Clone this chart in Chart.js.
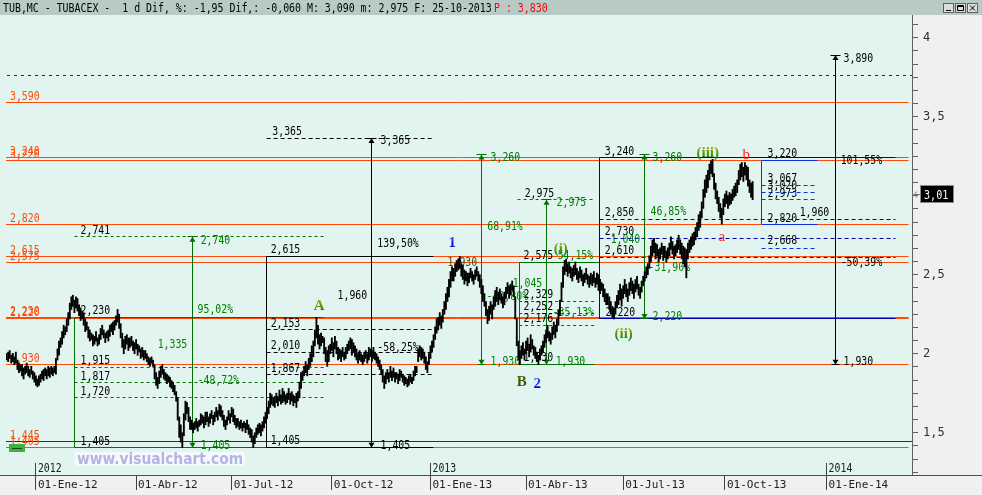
<!DOCTYPE html>
<html><head><meta charset="utf-8">
<script src="https://cdn.jsdelivr.net/npm/chart.js@4.4.1/dist/chart.umd.min.js"></script>
<style>html,body{margin:0;padding:0;background:#f0f0f0;}canvas{display:block}</style>
</head><body>
<canvas id="c" width="982" height="495"></canvas>
<script>
// ---- daily bars (trading-day index 0 = early Dec 2011, last = 25-10-2013) ----
const lows = [
1.96,1.95,1.97,1.94,1.95,1.93,1.94,1.90,1.88,1.89,
1.86,1.84,1.87,1.88,1.86,1.85,1.87,1.84,1.82,1.80,
1.79,1.80,1.82,1.84,1.83,1.86,1.84,1.86,1.85,1.87,
1.86,1.88,1.87,1.96,1.99,2.04,2.06,2.10,2.12,2.14,
2.18,2.22,2.28,2.30,2.26,2.29,2.27,2.24,2.21,2.22,
2.18,2.14,2.15,2.10,2.08,2.09,2.05,2.06,2.08,2.05,
2.06,2.09,2.12,2.10,2.07,2.10,2.08,2.11,2.14,2.12,
2.15,2.18,2.20,2.16,2.10,2.04,2.00,2.03,2.06,2.02,
2.04,2.05,2.02,2.00,2.03,1.99,2.01,1.97,1.98,1.96,
1.97,1.95,1.93,1.92,1.94,1.92,1.84,1.80,1.78,1.81,
1.85,1.87,1.84,1.83,1.81,1.82,1.79,1.78,1.76,1.74,
1.70,1.58,1.47,1.44,1.405,1.48,1.58,1.62,1.57,1.52,
1.52,1.50,1.52,1.53,1.51,1.54,1.55,1.56,1.53,1.55,
1.57,1.54,1.56,1.59,1.55,1.57,1.60,1.58,1.61,1.60,
1.58,1.54,1.52,1.55,1.58,1.56,1.60,1.57,1.55,1.53,
1.54,1.52,1.53,1.51,1.53,1.50,1.52,1.49,1.47,1.44,
1.405,1.43,1.47,1.49,1.50,1.48,1.51,1.53,1.56,1.59,
1.62,1.66,1.68,1.67,1.66,1.69,1.67,1.70,1.68,1.69,
1.70,1.68,1.69,1.71,1.68,1.70,1.67,1.69,1.66,1.70,
1.72,1.78,1.83,1.86,1.88,1.86,1.90,1.92,1.95,1.98,
2.05,2.10,2.06,2.03,2.05,2.07,2.00,1.95,1.92,1.95,
2.00,2.02,1.98,2.03,2.00,1.96,1.97,1.95,1.98,1.96,
1.97,2.00,2.02,2.03,1.99,2.01,1.98,1.96,1.94,1.96,
1.95,1.93,1.95,1.97,1.94,1.96,1.98,1.95,1.97,1.96,
1.94,1.92,1.90,1.87,1.82,1.78,1.81,1.84,1.82,1.85,
1.83,1.85,1.82,1.84,1.81,1.83,1.85,1.82,1.80,1.81,
1.79,1.80,1.82,1.81,1.83,1.86,1.88,1.95,1.98,1.96,
1.97,1.94,1.90,1.88,1.93,1.97,2.01,2.04,2.09,2.13,
2.15,2.18,2.16,2.20,2.25,2.28,2.33,2.36,2.42,2.46,
2.46,2.49,2.52,2.53,2.54,2.49,2.47,2.44,2.46,2.43,
2.45,2.48,2.46,2.44,2.47,2.49,2.46,2.42,2.38,2.33,
2.30,2.24,2.19,2.21,2.25,2.22,2.28,2.30,2.33,2.31,
2.34,2.32,2.29,2.31,2.35,2.38,2.35,2.37,2.40,2.36,
2.22,2.05,1.96,1.93,1.97,1.99,1.96,2.00,2.02,1.98,
2.01,2.03,1.99,1.97,1.95,1.93,1.96,1.99,2.01,2.04,
2.07,2.10,2.08,2.06,2.09,2.12,2.10,2.14,2.18,2.24,
2.33,2.42,2.50,2.52,2.49,2.51,2.48,2.46,2.49,2.50,
2.47,2.45,2.48,2.46,2.43,2.45,2.47,2.44,2.42,2.44,
2.43,2.45,2.42,2.44,2.40,2.38,2.40,2.36,2.33,2.31,
2.31,2.28,2.25,2.23,2.22,2.25,2.29,2.31,2.34,2.30,
2.35,2.38,2.36,2.33,2.37,2.40,2.38,2.35,2.39,2.41,
2.37,2.35,2.39,2.43,2.46,2.48,2.50,2.54,2.58,2.62,
2.64,2.60,2.62,2.58,2.60,2.63,2.59,2.61,2.58,2.60,
2.62,2.66,2.63,2.60,2.62,2.64,2.66,2.63,2.60,2.57,
2.55,2.48,2.60,2.64,2.66,2.68,2.69,2.72,2.74,2.78,
2.80,2.86,2.92,2.99,3.02,3.05,3.10,3.14,3.12,3.04,
2.98,2.95,2.90,2.86,2.82,2.88,2.93,2.95,2.92,2.94,
2.95,2.97,2.99,3.00,3.02,3.07,3.10,3.12,3.09,3.13,
3.10,3.06,3.02,2.99,2.975];
const highs = [
2.00,2.01,2.02,1.99,2.00,1.98,2.01,1.96,1.94,1.93,
1.93,1.91,1.92,1.94,1.92,1.90,1.92,1.89,1.88,1.86,
1.84,1.86,1.87,1.89,1.90,1.91,1.90,1.92,1.91,1.92,
1.91,1.92,1.97,2.03,2.08,2.10,2.14,2.18,2.17,2.22,
2.26,2.32,2.36,2.37,2.34,2.36,2.35,2.31,2.29,2.27,
2.26,2.22,2.20,2.17,2.15,2.13,2.12,2.11,2.14,2.10,
2.12,2.16,2.18,2.15,2.13,2.14,2.15,2.18,2.19,2.20,
2.21,2.24,2.28,2.25,2.19,2.13,2.09,2.11,2.12,2.10,
2.10,2.11,2.08,2.07,2.09,2.06,2.05,2.03,2.04,2.02,
2.02,2.00,1.98,1.97,1.98,1.96,1.93,1.88,1.85,1.89,
1.92,1.93,1.90,1.88,1.87,1.86,1.85,1.83,1.82,1.80,
1.76,1.72,1.60,1.55,1.50,1.62,1.70,1.69,1.66,1.60,
1.58,1.56,1.57,1.59,1.57,1.58,1.62,1.61,1.60,1.63,
1.63,1.60,1.62,1.64,1.61,1.63,1.66,1.64,1.68,1.67,
1.64,1.61,1.58,1.60,1.64,1.62,1.66,1.65,1.61,1.59,
1.59,1.57,1.58,1.56,1.57,1.56,1.58,1.55,1.53,1.52,
1.48,1.50,1.53,1.55,1.56,1.55,1.57,1.60,1.63,1.66,
1.70,1.75,1.74,1.72,1.73,1.75,1.73,1.77,1.74,1.78,
1.76,1.74,1.75,1.78,1.75,1.76,1.74,1.73,1.75,1.76,
1.82,1.88,1.89,1.92,1.95,1.93,1.97,2.00,2.05,2.08,
2.15,2.23,2.18,2.12,2.13,2.11,2.10,2.04,2.02,2.05,
2.06,2.10,2.07,2.11,2.08,2.04,2.03,2.02,2.04,2.01,
2.04,2.06,2.08,2.10,2.09,2.07,2.05,2.03,2.00,2.02,
2.00,1.99,2.01,2.02,2.00,2.04,2.03,2.02,2.04,2.01,
2.00,1.98,1.96,1.93,1.90,1.86,1.88,1.90,1.88,1.92,
1.89,1.91,1.88,1.88,1.87,1.90,1.89,1.87,1.86,1.85,
1.84,1.86,1.87,1.85,1.89,1.92,1.92,2.03,2.05,2.04,
2.03,2.01,1.98,1.95,2.00,2.05,2.08,2.12,2.17,2.22,
2.23,2.26,2.24,2.28,2.33,2.38,2.42,2.47,2.52,2.55,
2.54,2.57,2.59,2.60,2.615,2.57,2.56,2.53,2.52,2.51,
2.51,2.54,2.52,2.50,2.53,2.55,2.52,2.50,2.47,2.43,
2.38,2.33,2.28,2.30,2.33,2.31,2.36,2.40,2.42,2.39,
2.41,2.38,2.36,2.39,2.42,2.45,2.43,2.44,2.46,2.43,
2.36,2.22,2.08,2.02,2.05,2.07,2.03,2.08,2.10,2.06,
2.12,2.09,2.05,2.04,2.01,1.99,2.03,2.05,2.08,2.12,
2.15,2.18,2.14,2.13,2.17,2.20,2.18,2.22,2.28,2.34,
2.45,2.55,2.59,2.60,2.57,2.58,2.55,2.54,2.56,2.58,
2.54,2.52,2.55,2.53,2.50,2.51,2.54,2.50,2.49,2.51,
2.50,2.52,2.48,2.51,2.50,2.47,2.45,2.44,2.41,2.38,
2.38,2.36,2.33,2.30,2.29,2.33,2.37,2.40,2.44,2.41,
2.43,2.47,2.44,2.41,2.45,2.48,2.46,2.44,2.47,2.49,
2.44,2.42,2.46,2.49,2.52,2.55,2.57,2.62,2.68,2.72,
2.73,2.70,2.69,2.66,2.67,2.70,2.68,2.68,2.65,2.67,
2.70,2.74,2.71,2.68,2.69,2.72,2.75,2.72,2.70,2.68,
2.67,2.66,2.70,2.72,2.74,2.76,2.77,2.80,2.83,2.88,
2.90,2.96,3.04,3.10,3.13,3.16,3.20,3.22,3.23,3.14,
3.08,3.03,2.99,2.95,2.92,2.98,3.01,3.03,3.00,3.02,
3.01,3.04,3.06,3.08,3.10,3.16,3.20,3.21,3.18,3.21,
3.19,3.18,3.10,3.08,3.09];

// ---- axis ticks ----
const quarterIdx = [19, 84, 146, 211, 275, 337, 400, 466, 532];
const quarterLabels = ['01-Ene-12','01-Abr-12','01-Jul-12','01-Oct-12','01-Ene-13','01-Abr-13','01-Jul-13','01-Oct-13','01-Ene-14'];
const yearIdx = [19, 275, 532];
const yearLabels = ['2012', '2013', '2014'];

// ---- horizontal support / resistance levels ----
const levelValues = [3.59, 3.24, 3.22, 2.82, 2.615, 2.575, 2.23, 2.22, 1.93, 1.445, 1.405];
const levelLabels = ['3,590','3,240','3,220','2,820','2,615','2,575','2,230','2,220','1,930','1,445','1,405'];
const darkLevel = 1.445;
const dashedTopLevel = 3.762;
const lastPrice = 3.01;
const lastPriceLabel = '3,01';
const titleText = 'TUB,MC - TUBACEX -  1 d Dif, %: -1,95 Dif,: -0,060 M: 3,090 m: 2,975 F: 25-10-2013';
const titleExtra = 'P : 3,830';

// ---- drawing tools (data coordinates: bar index, price) ----
const ORANGE = '#ff4a0a', DARKRED = '#a00000', GREEN = '#007000', GT = '#008000', NAVY = '#0000b0', BLUE = '#1030e0', K = '#000000', OLV = '#405010';
const toolLines = [
 [44.1, 2.741, 205.7, 2.741, GREEN, [3,3]],
 [44.1, 2.23, 205.7, 2.23, GREEN, null],
 [44.1, 2.23, 44.1, 1.405, GREEN, null],
 [44.1, 1.405, 168.7, 1.405, GREEN, null],
 [44.1, 1.915, 205.7, 1.915, GREEN, [3,3]],
 [44.1, 1.817, 205.7, 1.817, GREEN, [3,3]],
 [44.1, 1.72, 205.7, 1.72, GREEN, [3,3]],
 [168.7, 3.365, 275.7, 3.365, K, [4,3]],
 [168.7, 2.615, 276.8, 2.615, K, null],
 [168.7, 2.615, 168.7, 1.405, K, null],
 [168.7, 1.405, 276.8, 1.405, K, null],
 [168.7, 2.153, 275.7, 2.153, K, [4,3]],
 [168.7, 2.01, 275.7, 2.01, K, [4,3]],
 [168.7, 1.867, 275.7, 1.867, K, [4,3]],
 [331.5, 2.975, 380.8, 2.975, GREEN, [3,3]],
 [332.5, 2.575, 384.7, 2.575, GREEN, null],
 [332.5, 2.575, 332.5, 1.93, GREEN, null],
 [332.5, 1.93, 381.5, 1.93, GREEN, null],
 [332.5, 2.329, 381.5, 2.329, GREEN, [3,3]],
 [332.5, 2.252, 381.5, 2.252, GREEN, [3,3]],
 [332.5, 2.176, 381.5, 2.176, GREEN, [3,3]],
 [384.7, 3.24, 576.7, 3.24, NAVY, null],
 [384.7, 3.24, 384.7, 2.22, NAVY, null],
 [384.7, 2.22, 576.7, 2.22, NAVY, null],
 [384.7, 2.85, 576.7, 2.85, NAVY, [4,3]],
 [384.7, 2.73, 576.7, 2.73, NAVY, [4,3]],
 [384.7, 2.61, 576.7, 2.61, NAVY, [4,3]],
 [489.8, 3.22, 526.1, 3.22, BLUE, null],
 [489.8, 3.22, 489.8, 2.82, BLUE, null],
 [489.8, 2.82, 526.1, 2.82, BLUE, null],
 [489.8, 3.067, 526.1, 3.067, BLUE, [4,3]],
 [489.8, 3.02, 526.1, 3.02, BLUE, [4,3]],
 [489.8, 2.973, 526.1, 2.973, BLUE, [4,3]],
 [489.8, 2.668, 526.1, 2.668, BLUE, [4,3]]
];
const arrows = [
 [120.7, 2.74, 1.405, GREEN],
 [236.8, 3.365, 1.405, K],
 [308.2, 3.26, 1.93, GREEN],
 [350.0, 2.975, 1.93, GREEN],
 [413.9, 3.26, 2.22, GREEN],
 [537.8, 3.89, 1.93, K]
];
// [index, price, pixel offset of baseline, text, colour]
const notes = [
 [48.0, 2.741, -3, '2,741', K], [125.9, 2.741, 7, '2,740', GT],
 [48.0, 2.23, -3, '2,230', K], [123.9, 2.258, 0, '95,02%', GT],
 [98.0, 2.036, 0, '1,335', GT], [48.0, 1.915, -3, '1,915', K],
 [48.0, 1.817, -3, '1,817', K], [48.0, 1.72, -3, '1,720', K],
 [123.9, 1.808, 0, '-48,72%', GT], [48.0, 1.405, -3, '1,405', K],
 [125.9, 1.405, 1, '1,405', GT],
 [172.4, 3.365, -3, '3,365', K], [242.6, 3.365, 6, '3,365', K],
 [240.5, 2.677, 0, '139,50%', K], [171.3, 2.615, -3.5, '2,615', K],
 [171.3, 2.153, -3, '2,153', K], [171.3, 2.01, -3, '2,010', K],
 [171.3, 1.867, -3, '1,867', K], [171.3, 1.405, -4, '1,405', K],
 [214.7, 2.346, 0, '1,960', K], [240.5, 2.019, 0, '-58,25%', K],
 [242.6, 1.405, 1, '1,405', K],
 [286.1, 2.555, 0, '1,930', OLV],
 [314.0, 3.26, 6, '3,260', GT], [311.8, 2.783, 0, '68,91%', GT],
 [311.4, 2.34, 0, '-40,80%', GT], [314.0, 1.93, 0, '1,930', GT],
 [336.1, 2.975, -3, '2,975', K], [356.8, 2.975, 6, '2,975', GT],
 [335.4, 2.575, -4, '2,575', K], [357.5, 2.575, -4, '54,15%', GT],
 [328.3, 2.422, 0, '1,045', GT],
 [335.4, 2.329, -3.5, '2,329', K], [335.4, 2.252, -3.5, '2,252', K],
 [335.4, 2.176, -3.5, '2,176', K], [354.2, 2.239, 0, '-35,13%', GT],
 [335.4, 1.93, -3.5, '1,930', K], [356.2, 1.93, 0, '1,930', GT],
 [388.0, 3.24, -3, '3,240', K], [388.0, 2.85, -3.5, '2,850', K],
 [388.0, 2.73, -3.5, '2,730', K], [388.0, 2.61, -3.5, '2,610', K],
 [388.6, 2.22, -3, '2,220', K],
 [419.1, 3.26, 6, '3,260', GT], [417.8, 2.878, 0, '46,85%', GT],
 [391.9, 2.703, 0, '1,040', GT], [416.5, 2.525, 0, '-31,90%', GT],
 [419.1, 2.22, 1, '2,220', GT],
 [493.7, 3.22, -3.5, '3,220', K], [493.7, 3.067, -3.5, '3,067', K],
 [493.7, 3.02, -3.5, '3,020', K], [493.7, 2.973, -3, '2,973', K],
 [493.7, 2.82, -2.6, '2,820', K], [514.5, 2.872, 0, '1,960', K],
 [493.7, 2.668, -4, '2,668', K],
 [541.1, 3.22, 3, '101,55%', K], [541.1, 2.575, 3, '-50,39%', K],
 [543.0, 3.89, 6.5, '3,890', K], [543.0, 1.93, 0, '1,930', K]
];
const waveLabels = [
 [286.7, 2.677, '1', 'blue'], [341.9, 1.783, '2', 'blue'],
 [199.2, 2.277, 'A', 'olive'], [330.9, 1.796, 'B', 'dark'],
 [354.9, 2.637, '(i)', 'olive'], [394.4, 2.099, '(ii)', 'olive'],
 [447.6, 3.245, '(iii)', 'olive'],
 [461.9, 2.713, 'a', 'red'], [477.5, 3.232, 'b', 'red']
];

const MONO = '"DejaVu Sans Mono"';
function txt(ctx, s, x, y, color, size, sx, font) {
  ctx.save();
  ctx.font = size + 'px ' + (font || MONO);
  ctx.fillStyle = color;
  ctx.textBaseline = 'alphabetic';
  ctx.textAlign = 'left';
  ctx.translate(x, y);
  ctx.scale(sx, 1);
  ctx.fillText(s, 0, 0);
  ctx.restore();
}
function seg(ctx, x1, y1, x2, y2, color, dash) {
  ctx.save();
  ctx.strokeStyle = color; ctx.lineWidth = 1;
  ctx.setLineDash(dash || []);
  if (Math.abs(y1 - y2) < 0.01) { y1 = y2 = Math.floor(y1) + 0.5; }
  if (Math.abs(x1 - x2) < 0.01) { x1 = x2 = Math.floor(x1) + 0.5; }
  ctx.beginPath(); ctx.moveTo(x1, y1); ctx.lineTo(x2, y2); ctx.stroke();
  ctx.restore();
}

const annoPlugin = {
  id: 'anno',
  beforeDraw(chart) {
    const ctx = chart.ctx, a = chart.chartArea;
    ctx.save();
    ctx.fillStyle = '#f0f0f0'; ctx.fillRect(0, 0, 982, 495);
    ctx.fillStyle = '#e1f4ef'; ctx.fillRect(0, a.top, a.right, a.bottom - a.top);
    ctx.fillStyle = '#b8cac6'; ctx.fillRect(0, 0, 982, a.top);
    ctx.restore();
  },
  beforeDatasetsDraw(chart) {
    const ctx = chart.ctx, a = chart.chartArea, xs = chart.scales.x, ys = chart.scales.y;
    const X = v => xs.getPixelForValue(v), Y = v => ys.getPixelForValue(v);
    ctx.save();
    ctx.beginPath(); ctx.rect(0, a.top, a.right, a.bottom - a.top); ctx.clip();
    seg(ctx, a.left + 1, Y(dashedTopLevel), a.right, Y(dashedTopLevel), '#8a0000', [3,4]);
    levelValues.forEach((v, k) => {
      const dark = v === darkLevel;
      seg(ctx, a.left, Y(v), dark ? a.right : X(585.2), Y(v), dark ? DARKRED : ORANGE);
      txt(ctx, levelLabels[k], a.left + 4, Y(v) - 2.5, ORANGE, 12, 0.82);
    });
    toolLines.forEach(t => seg(ctx, X(t[0]), Y(t[1]), X(t[2]), Y(t[3]), t[4], t[5]));
    arrows.forEach(t => {
      const x = Math.floor(X(t[0])) + 0.5, y1 = Y(t[1]), y2 = Y(t[2]);
      seg(ctx, x, y1, x, y2, t[3]);
      seg(ctx, x - 5, y1, x + 5, y1, t[3]);
      ctx.fillStyle = t[3];
      ctx.beginPath(); ctx.moveTo(x, y1); ctx.lineTo(x - 3, y1 + 5); ctx.lineTo(x + 3, y1 + 5); ctx.closePath(); ctx.fill();
      ctx.beginPath(); ctx.moveTo(x, y2); ctx.lineTo(x - 3, y2 - 5); ctx.lineTo(x + 3, y2 - 5); ctx.closePath(); ctx.fill();
      seg(ctx, x - 4, y2, x + 4, y2, t[3]);
    });
    notes.forEach(n => txt(ctx, n[3], X(n[0]), Y(n[1]) + n[2], n[4], 12, 0.82));
    ctx.restore();
  },
  afterDatasetsDraw(chart) {
    const ctx = chart.ctx, xs = chart.scales.x, ys = chart.scales.y;
    const X = v => xs.getPixelForValue(v), Y = v => ys.getPixelForValue(v);
    waveLabels.forEach(w => {
      const x = X(w[0]), y = Y(w[1]);
      let fill, font = 'bold 15px "Liberation Serif"';
      if (w[3] === 'blue') {
        fill = ctx.createLinearGradient(0, y - 11, 0, y);
        fill.addColorStop(0, '#4060ff'); fill.addColorStop(1, '#0000e0');
      } else if (w[3] === 'olive') {
        fill = ctx.createLinearGradient(0, y - 11, 0, y);
        fill.addColorStop(0, '#b8a800'); fill.addColorStop(1, '#208a20');
      } else if (w[3] === 'dark') {
        fill = ctx.createLinearGradient(0, y - 11, 0, y);
        fill.addColorStop(0, '#6a6000'); fill.addColorStop(1, '#1c5a1c');
      } else {
        fill = '#ff2020'; font = '15px "Liberation Serif"';
      }
      ctx.save(); ctx.font = font; ctx.fillStyle = fill; ctx.textAlign = 'left'; ctx.textBaseline = 'alphabetic';
      ctx.fillText(w[2], x, y); ctx.restore();
    });
  },
  afterDraw(chart) {
    const ctx = chart.ctx, a = chart.chartArea, xs = chart.scales.x, ys = chart.scales.y;
    txt(ctx, titleText, 3, 11.5, '#000', 12, 0.825);
    txt(ctx, titleExtra, 494, 11.5, '#ff0000', 12, 0.825);
    [943, 955, 967].forEach((bx, k) => {
      ctx.save();
      ctx.fillStyle = '#dcdcdc'; ctx.fillRect(bx, 3, 11, 10);
      ctx.strokeStyle = '#606060'; ctx.lineWidth = 1; ctx.strokeRect(bx + 0.5, 3.5, 10, 9);
      ctx.strokeStyle = '#000'; ctx.beginPath();
      if (k === 0) { ctx.moveTo(bx + 3, 10.5); ctx.lineTo(bx + 8, 10.5); }
      if (k === 1) { ctx.rect(bx + 2.5, 5.5, 6, 5); ctx.moveTo(bx + 2.5, 6.5); ctx.lineTo(bx + 8.5, 6.5); }
      if (k === 2) { ctx.moveTo(bx + 3, 5.5); ctx.lineTo(bx + 8, 10.5); ctx.moveTo(bx + 8, 5.5); ctx.lineTo(bx + 3, 10.5); }
      ctx.stroke(); ctx.restore();
    });
    seg(ctx, 0, a.bottom, 982, a.bottom, '#505050');
    yearIdx.forEach((v, k) => {
      const x = xs.getPixelForValue(v);
      seg(ctx, x, a.bottom - 12, x, a.bottom, '#404040');
      txt(ctx, yearLabels[k], x + 2, a.bottom - 3, '#202020', 12, 0.82);
    });
    ctx.save();
    ctx.fillStyle = 'rgba(248,250,255,0.9)'; ctx.fillRect(75, 452, 170, 14);
    ctx.font = 'bold 15px "DejaVu Sans"';
    const w = ctx.measureText('www.visualchart.com').width;
    ctx.translate(77, 464); ctx.scale(166 / w, 1);
    ctx.fillStyle = '#b4b4e4'; ctx.fillText('www.visualchart.com', 0, 0);
    ctx.restore();
    ctx.save();
    ctx.fillStyle = '#40b040'; ctx.fillRect(9, 444, 16, 8);
    ctx.strokeStyle = '#1a4a1a'; ctx.beginPath(); ctx.moveTo(12, 448.5); ctx.lineTo(22, 448.5); ctx.stroke();
    ctx.restore();
    const py = ys.getPixelForValue(lastPrice);
    ctx.save();
    ctx.fillStyle = '#000'; ctx.fillRect(921, Math.round(py) - 8, 32, 16);
    ctx.strokeStyle = '#8a8a8a'; ctx.strokeRect(920.5, Math.round(py) - 8.5, 33, 17);
    ctx.restore();
    txt(ctx, lastPriceLabel, 924, Math.round(py) + 5, '#ffffff', 13, 0.78);
    ctx.save();
    ctx.strokeStyle = '#707070'; ctx.beginPath();
    const ay = Math.round(py) + 0.5;
    ctx.moveTo(914, ay); ctx.lineTo(920, ay); ctx.moveTo(914, ay); ctx.lineTo(917, ay - 3); ctx.moveTo(914, ay); ctx.lineTo(917, ay + 3);
    ctx.stroke(); ctx.restore();
  }
};

const barData = lows.map((l, i) => ({ x: i, y: [l, highs[i]] }));

new Chart(document.getElementById('c'), {
  type: 'bar',
  data: { datasets: [{ data: barData, backgroundColor: '#000', borderWidth: 0, barThickness: 1.2, grouped: false }] },
  options: {
    responsive: false, animation: false, devicePixelRatio: 1,
    layout: { padding: { left: 6, top: 15, right: 0, bottom: 0 } },
    plugins: { legend: { display: false }, tooltip: { enabled: false } },
    scales: {
      x: {
        type: 'linear', min: -0.4, max: 587.4, offset: false,
        grid: { offset: false, drawOnChartArea: false, drawTicks: true, tickLength: 15, color: '#404040' },
        border: { display: true, color: '#505050' },
        ticks: { autoSkip: false, maxRotation: 0, align: 'start', labelOffset: 2, padding: -11, color: '#202020',
          font: { family: 'DejaVu Sans Mono', size: 11 },
          callback: v => { const k = quarterIdx.indexOf(v); return k >= 0 ? quarterLabels[k] : ''; } },
        afterBuildTicks: s => { s.ticks = quarterIdx.map(v => ({ value: v })); },
        afterFit: s => { s.height = 20; }
      },
      y: {
        position: 'right', min: 1.2323, max: 4.1437,
        grid: { drawOnChartArea: false, tickLength: 6, color: '#606060' },
        border: { color: '#606060' },
        ticks: { autoSkip: false, padding: 5, color: '#303030', font: { family: 'DejaVu Sans Mono', size: 12 },
          callback: v => (Math.abs(v * 2 - Math.round(v * 2)) < 1e-6) ? String(v).replace('.', ',') : '' },
        afterBuildTicks: s => { const t = []; for (let k = 15; k <= 49; k++) t.push({ value: k / 12 }); s.ticks = t; },
        afterFit: s => { s.width = 70; }
      }
    }
  },
  plugins: [annoPlugin]
});
</script>
</body></html>
